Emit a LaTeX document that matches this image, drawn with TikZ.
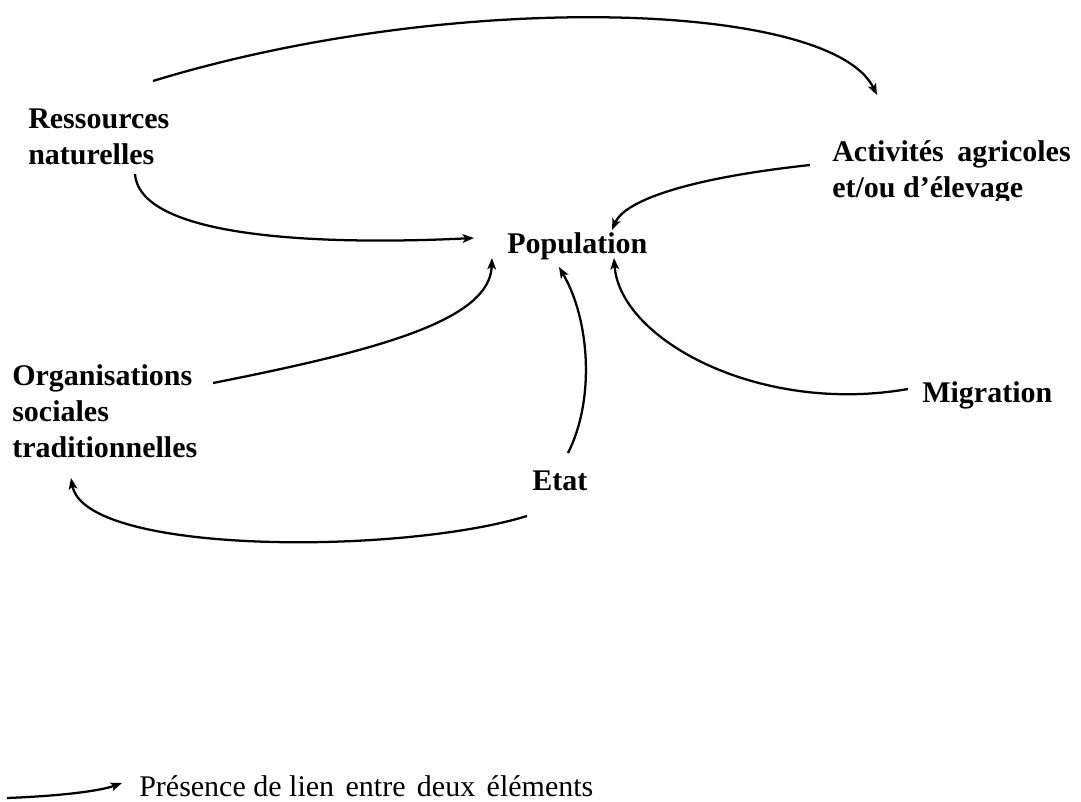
\documentclass[tikz,border=0pt]{standalone}
\usepackage{fontspec}
\setmainfont{Liberation Serif}
\usetikzlibrary{arrows.meta}
\begin{document}
\begin{tikzpicture}[x=0.75pt,y=-0.75pt,
  lbl/.style={anchor=base west,inner sep=0pt,align=left,font=\fontsize{22.5}{27}\selectfont\bfseries},
  leg/.style={anchor=base west,inner sep=0pt,font=\fontsize{22.5}{27}\selectfont},
  link/.style={line width=1.7pt,-{Stealth[length=8.5pt,width=6.5pt,inset=2pt]}}]
\useasboundingbox (0,0) rectangle (1081,802);
\fill[white] (0,0) rectangle (1081,802);
% nodes (base west = baseline of the last line)
\node[lbl] (res) at (28,165) {Ressources\\naturelles};
\begin{scope}
\clip (700,60) rectangle (1081,201);
\node[lbl] (act) at (832,198) {Activités\hspace{0.45em}agricoles\\et/ou d’élevage};
\end{scope}
\node[lbl] (pop) at (507,253) {Population};
\node[lbl] (org) at (12,457) {Organisations\\sociales\\traditionnelles};
\node[lbl] (mig) at (922,402) {Migration};
\node[lbl] (etat) at (532,490) {Etat};
\node[leg] (legtxt) at (139,796) {Présence de lien\hspace{0.38em}entre\hspace{0.38em}deux\hspace{0.38em}éléments};
\coordinate (legstart) at (7,798);
% connectors
\draw[link] ([shift={(125,-84)}]res.base west) .. controls (450,-10) and (830,0) .. ([shift={(45,-103)}]act.base west);
\draw[link] ([shift={(107,9)}]res.base west) .. controls (140,240) and (330,245) .. ([shift={(-33,-15)}]pop.base west);
\draw[link] ([shift={(-22,-33)}]act.base west) .. controls (690,178) and (625,200) .. ([shift={(105,-23)}]pop.base west);
\draw[link] ([shift={(201,-74)}]org.base west) .. controls (380,350) and (490,320) .. ([shift={(-15,5)}]pop.base west);
\draw[link] ([shift={(36,-37)}]etat.base west) .. controls (595,400) and (590,320) .. ([shift={(52,14)}]pop.base west);
\draw[link] ([shift={(-14,-13)}]mig.base west) .. controls (760,415) and (620,340) .. ([shift={(107,5)}]pop.base west);
\draw[link] ([shift={(-5,26)}]etat.base west) .. controls (400,555) and (85,555) .. ([shift={(59,21)}]org.base west);
\draw[link] (legstart) .. controls (60,796) and (100,791) .. ([shift={(-17,-13)}]legtxt.base west);
\end{tikzpicture}
\end{document}
